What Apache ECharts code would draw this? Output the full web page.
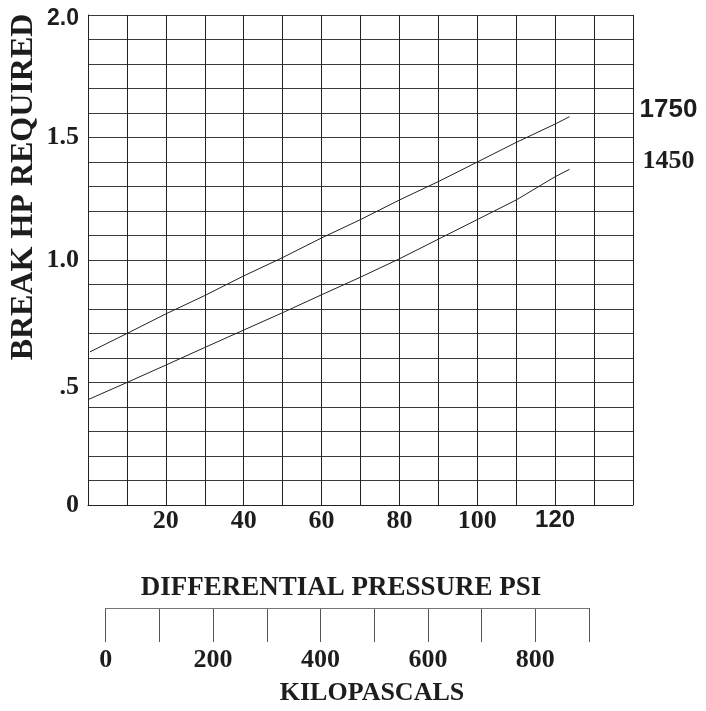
<!DOCTYPE html>
<html>
<head>
<meta charset="utf-8">
<script src="https://cdn.jsdelivr.net/npm/echarts@6/dist/echarts.min.js"></script>
<style>html,body{margin:0;padding:0;background:#fff;}#c{width:706px;height:711px;}</style>
</head>
<body>
<div id="c"></div>
<script>
// Data
const psi1750 = [0.5, 10, 20, 30, 40, 50, 60, 70, 80, 90, 100, 110, 120, 123.7];
const hp1750  = [0.625, 0.70, 0.78, 0.855, 0.935, 1.01, 1.09, 1.165, 1.245, 1.32, 1.40, 1.48, 1.555, 1.585];
const psi1450 = [0, 10, 20, 30, 40, 50, 60, 70, 80, 90, 100, 110, 120, 123.7];
const hp1450  = [0.43, 0.50, 0.571, 0.643, 0.714, 0.785, 0.858, 0.93, 1.005, 1.085, 1.165, 1.245, 1.34, 1.37];
const seriesNames = ['1750', '1450'];
const psiLabels = {20: 't', 40: 't', 60: 't', 80: 't', 100: 't', 120: 'a'};
const hpLabels = [[0, '0', 't'], [0.5, '.5', 'h'], [1.0, '1.0', 't'], [1.5, '1.5', 't'], [2.0, '2.0', 'b']];
const kpaLabels = [0, 200, 400, 600, 800];
const yTitle = 'BREAK HP REQUIRED';
const xTitle = 'DIFFERENTIAL PRESSURE PSI';
const kpaTitle = 'KILOPASCALS';

const SERIF = '"Liberation Serif","Times New Roman",serif';
const SANS = '"Liberation Sans",Arial,sans-serif';
const INK = '#1e1c1d';

const chart = echarts.init(document.getElementById('c'));
const rich = {
  t: {fontFamily: SERIF, fontWeight: 'bold', fontSize: 26, color: INK},
  h: {fontFamily: SERIF, fontWeight: 'bold', fontSize: 26, color: INK, padding: [10, 0, 0, 0]},
  a: {fontFamily: SANS, fontWeight: 'bold', fontSize: 24, color: INK},
  b: {fontFamily: SANS, fontWeight: 'bold', fontSize: 23, color: INK, padding: [8, 0, 0, 0]}
};
function zip(xs, ys) { return xs.map((x, i) => [x, ys[i]]); }

chart.setOption({
  animation: false,
  backgroundColor: '#fff',
  grid: [
    {left: 88, right: 73, top: 15, bottom: 206, containLabel: false},
    {left: 105.7, right: 117, top: 608, height: 34, containLabel: false}
  ],
  xAxis: [
    {
      type: 'value', gridIndex: 0, min: 0, max: 140, interval: 10,
      axisLine: {show: true, lineStyle: {color: '#222', width: 1}},
      axisTick: {show: false},
      splitLine: {show: true, lineStyle: {color: '#222', width: 1}},
      axisLabel: {
        margin: 3,
        formatter: function (v) { const k = psiLabels[Math.round(v)]; return k ? '{' + k + '|' + Math.round(v) + '}' : ''; },
        rich: rich
      }
    },
    {
      type: 'value', gridIndex: 1, min: 0, max: 900, interval: 100, position: 'bottom',
      axisLine: {show: false}, axisTick: {show: false},
      splitLine: {show: true, lineStyle: {color: '#555', width: 1}},
      axisLabel: {
        margin: 5,
        formatter: function (v) { return kpaLabels.indexOf(Math.round(v)) >= 0 ? '{t|' + Math.round(v) + '}' : ''; },
        rich: rich
      }
    },
    {
      type: 'value', gridIndex: 1, min: 0, max: 900, position: 'top',
      axisLine: {show: true, lineStyle: {color: '#777', width: 1}},
      axisTick: {show: false}, axisLabel: {show: false}, splitLine: {show: false}
    }
  ],
  yAxis: [
    {
      type: 'value', gridIndex: 0, min: 0, max: 2, interval: 0.1,
      axisLine: {show: true, lineStyle: {color: '#222', width: 1}},
      axisTick: {show: false},
      splitLine: {show: true, lineStyle: {color: '#3a3a3a', width: 1}},
      axisLabel: {
        margin: 9,
        formatter: function (v) {
          for (const h of hpLabels) { if (Math.abs(h[0] - v) < 1e-6) return '{' + h[2] + '|' + h[1] + '}'; }
          return '';
        },
        rich: rich
      }
    },
    {type: 'value', gridIndex: 1, min: 0, max: 1, show: false}
  ],
  series: [
    {
      name: seriesNames[0], type: 'line', xAxisIndex: 0, yAxisIndex: 0,
      data: zip(psi1750, hp1750), showSymbol: false, symbol: 'none',
      lineStyle: {color: '#222', width: 1},
      endLabel: {show: true, formatter: '{a|{a}}', distance: 70, offset: [0, -7], rich: {a: {fontFamily: SANS, fontWeight: 'bold', fontSize: 26, color: INK}}}
    },
    {
      name: seriesNames[1], type: 'line', xAxisIndex: 0, yAxisIndex: 0,
      data: zip(psi1450, hp1450), showSymbol: false, symbol: 'none',
      lineStyle: {color: '#222', width: 1},
      endLabel: {show: true, formatter: '{t|{a}}', distance: 73, offset: [0, -8], rich: {t: {fontFamily: SERIF, fontWeight: 'bold', fontSize: 26, color: INK}}}
    }
  ],
  graphic: [
    {type: 'text', x: 24, y: 187, rotation: Math.PI / 2, style: {text: yTitle, font: 'bold 32px ' + SERIF, fill: INK, textAlign: 'center', textVerticalAlign: 'middle', align: 'center', verticalAlign: 'middle'}},
    {type: 'text', x: 341, y: 588, style: {text: xTitle, font: 'bold 27px ' + SERIF, fill: INK, textAlign: 'center', textVerticalAlign: 'middle', align: 'center', verticalAlign: 'middle'}},
    {type: 'text', x: 372, y: 693, style: {text: kpaTitle, font: 'bold 26px ' + SERIF, fill: INK, textAlign: 'center', textVerticalAlign: 'middle', align: 'center', verticalAlign: 'middle'}}
  ]
});
</script>
</body>
</html>
